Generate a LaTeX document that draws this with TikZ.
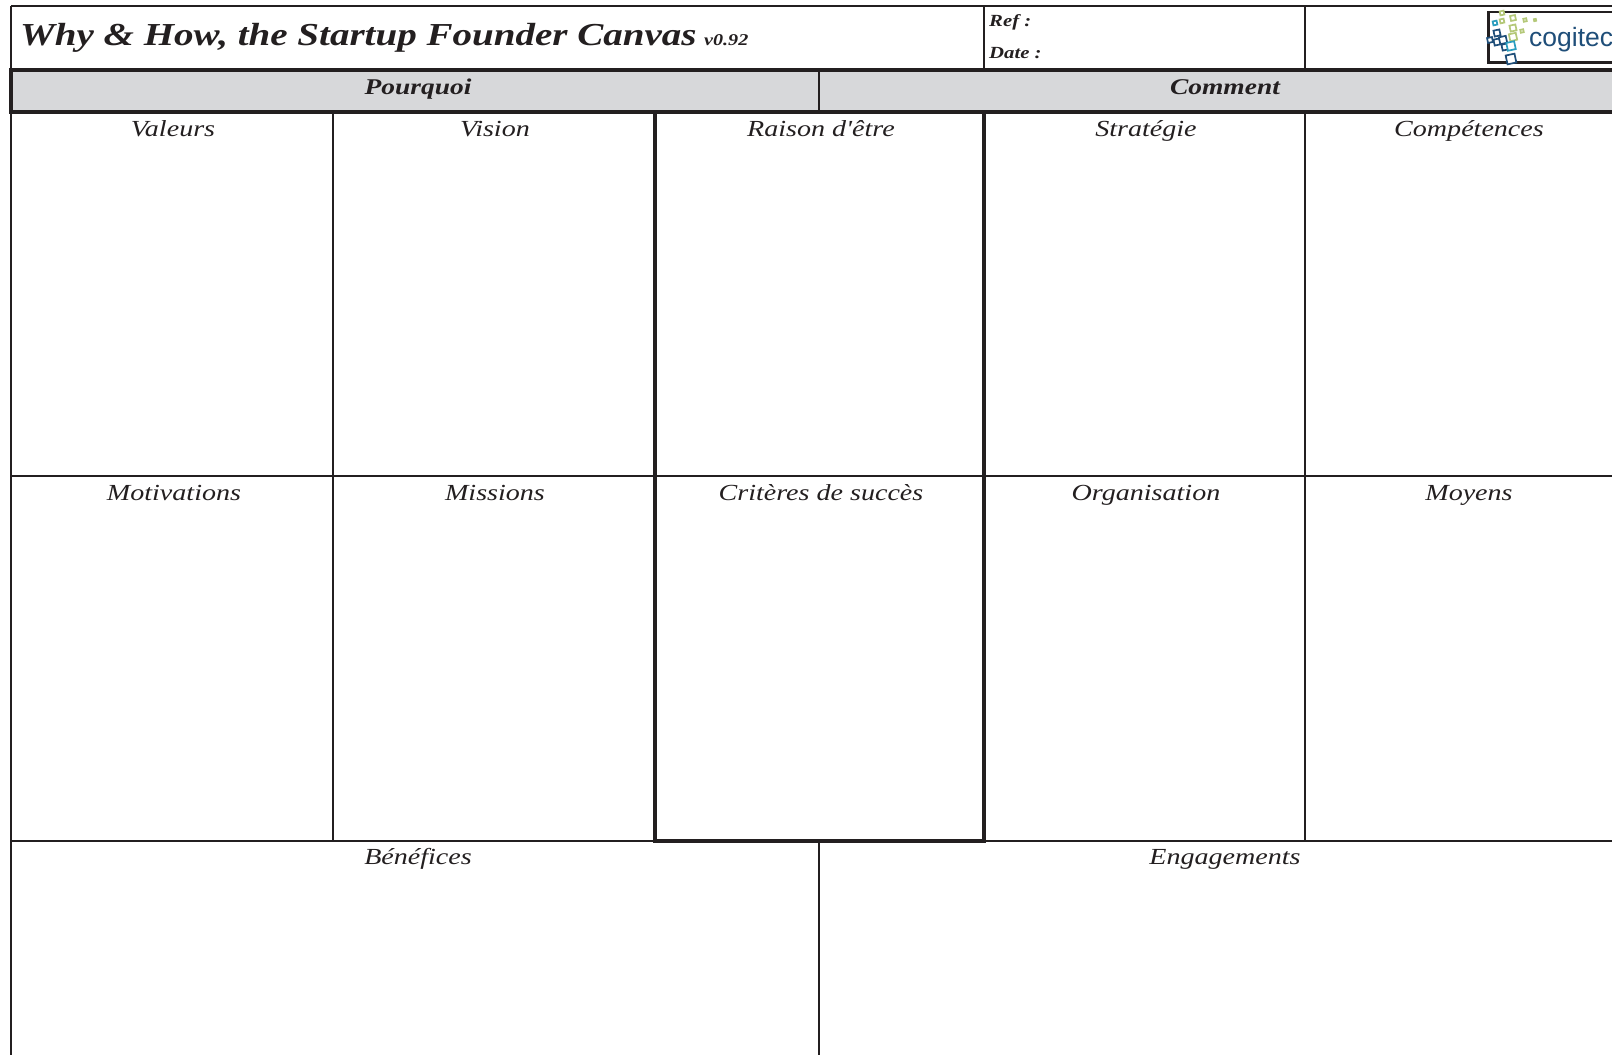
\documentclass[tikz,border=0pt]{standalone}
\usepackage{fontspec}
\setmainfont{Liberation Serif}
\newfontfamily\hand{Liberation Serif}[FakeStretch=1.22]
\newfontfamily\logofont{Liberation Sans}
\definecolor{ink}{HTML}{231F20}
\definecolor{band}{HTML}{D7D8DA}
\definecolor{logoblue}{HTML}{1F4E79}
\definecolor{logocyan}{HTML}{2A9DBE}
\definecolor{logogreen}{HTML}{B4C878}
\tikzset{
  thinline/.style={draw=ink,line width=1.8pt},
  thickline/.style={draw=ink,line width=3.5pt,line cap=rect},
  celltitle/.style={inner sep=0pt,anchor=base,text=ink,font=\hand\itshape\fontsize{23}{23}\selectfont},
  bandtitle/.style={inner sep=0pt,anchor=base,text=ink,font=\hand\itshape\bfseries\fontsize{22.5}{22.5}\selectfont},
  metatitle/.style={inner sep=0pt,anchor=base west,text=ink,font=\hand\itshape\bfseries\fontsize{17}{17}\selectfont},
  logosq/.style={draw=#1,line width=1.7pt,fill=white,rotate=12,inner sep=0pt,shape=rectangle},
}
\begin{document}
\begin{tikzpicture}[x=1pt,y=-1pt]
\useasboundingbox (0,0) rectangle (1612,1055);
\fill[white] (0,0) rectangle (1612,1055);
% grey band
\fill[band] (11,70) rectangle (1612,112);
% grid, thin lines
\draw[thinline] (11,6) -- (1612,6);
\draw[thinline] (11,6) -- (11,1055);
\draw[thinline] (984,6) -- (984,70);
\draw[thinline] (1305,6) -- (1305,70);
\draw[thinline] (819,70) -- (819,112);
\draw[thinline] (333,112) -- (333,841);
\draw[thinline] (1305,112) -- (1305,841);
\draw[thinline] (11,476) -- (1612,476);
\draw[thinline] (11,841) -- (1612,841);
\draw[thinline] (819,841) -- (819,1055);
% band frame
\draw[thickline] (1630,70) -- (11,70) -- (11,112) -- (1630,112);
% emphasised column
\draw[thickline] (655,112) -- (655,841) -- (984,841) -- (984,112);
% logo
\draw[draw=ink,line width=2.4pt,fill=white] (1630,12) -- (1488.5,12) -- (1488.5,62.5) -- (1630,62.5);
\foreach \x/\y/\s/\c [count=\i] in {1502/13/4/logogreen,1513/18/5/logogreen,1525/20/3/logogreen,1535/20/2/logogreen,1495/23/4/logocyan,1502/21/4/logogreen,1513/28/6/logogreen,1522/31/3/logogreen,
 1513/37/7/logogreen,1497/33/6/logoblue,1490/40/5/logoblue,1497/42/6/logoblue,1503/40/7/logoblue,1505/47/6/logoblue,1511/46/8/logocyan,1511/59/9/logoblue}
  \node[logosq=\c,minimum size=\s pt] (sq\i) at (\x,\y) {};
\node[inner sep=0pt,anchor=base west,text=logoblue,font=\logofont\fontsize{26.5}{26.5}\selectfont] (logo) at (1529,46) {cogitec};
% header texts
\node[inner sep=0pt,anchor=base west,text=ink,font=\hand\itshape\bfseries\fontsize{32}{32}\selectfont] (title) at (20,45) {Why \& How, the Startup Founder Canvas};
\node[inner sep=0pt,anchor=base west,text=ink,font=\hand\itshape\bfseries\fontsize{16.5}{16.5}\selectfont] (version) at (704,45) {v0.92};
\node[metatitle] (ref) at (989,26) {Ref :};
\node[metatitle] (date) at (989,58) {Date :};
\node[bandtitle] (pourquoi) at (418,94) {Pourquoi};
\node[bandtitle] (comment) at (1225,94) {Comment};
% cells
\node[celltitle] (valeurs) at (173,136) {Valeurs};
\node[celltitle] (vision) at (495,136) {Vision};
\node[celltitle] (raison) at (821,136) {Raison d'être};
\node[celltitle] (strategie) at (1146,136) {Stratégie};
\node[celltitle] (competences) at (1469,136) {Compétences};
\node[celltitle] (motivations) at (174,500) {Motivations};
\node[celltitle] (missions) at (495,500) {Missions};
\node[celltitle] (criteres) at (821,500) {Critères de succès};
\node[celltitle] (organisation) at (1146,500) {Organisation};
\node[celltitle] (moyens) at (1469,500) {Moyens};
\node[celltitle] (benefices) at (418,864) {Bénéfices};
\node[celltitle] (engagements) at (1225,864) {Engagements};
\end{tikzpicture}
\end{document}
